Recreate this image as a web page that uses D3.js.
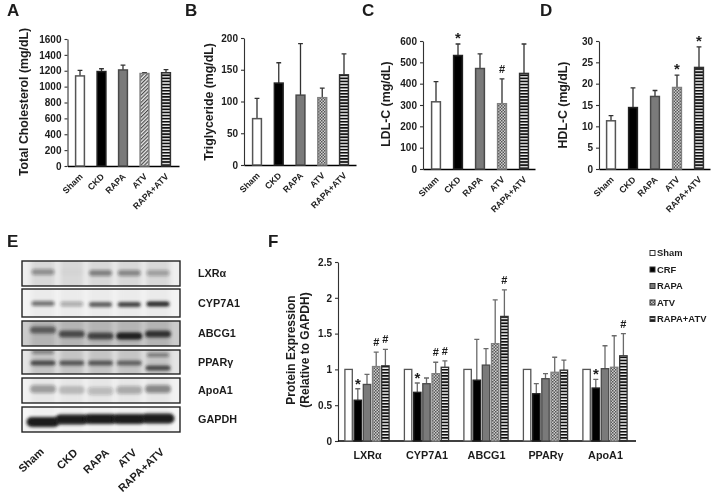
<!DOCTYPE html>
<html><head><meta charset="utf-8">
<script src="https://cdn.jsdelivr.net/npm/d3@7"></script>
<style>
html,body{margin:0;padding:0;background:#fff}
svg{display:block}
text{font-family:"Liberation Sans",Arial,sans-serif;font-weight:bold;fill:#1c1c1c}
</style></head><body><svg id="c" width="715" height="497"></svg>
<script>
const groups=["Sham","CKD","RAPA","ATV","RAPA+ATV"];
const totalChol=[1135,1190,1210,1165,1175], totalCholTop=[1205,1225,1270,1175,1215];
const trig=[73,129,110,106,142], trigTop=[105,161,191,121,175];
const ldl=[315,532,471,306,448], ldlTop=[410,586,540,422,586];
const hdl=[11.3,14.4,17,19.1,23.8], hdlTop=[12.5,19,18.4,22,28.6];
const ldlMarks=["","*","","#",""], hdlMarks=["","","","*","*"], noMarks=["","","","",""];

const proteins=["LXRα","CYP7A1","ABCG1","PPARγ","ApoA1"];
const legendNames=["Sham","CRF","RAPA","ATV","RAPA+ATV"];
const protSham=[1,1,1,1,1], protShamTop=[1,1,1,1,1];
const protCrf=[.57,.68,.85,.66,.74], protCrfTop=[.73,.81,1.42,.80,.86];
const protRapa=[.79,.80,1.06,.87,1.01], protRapaTop=[.93,.88,1.29,.94,1.33];
const protAtv=[1.04,.94,1.36,.96,1.03], protAtvTop=[1.24,1.10,1.97,1.17,1.47];
const protBoth=[1.05,1.03,1.74,.99,1.19], protBothTop=[1.28,1.12,2.11,1.13,1.50];
const protMarks=[["","*","","#","#"],["","*","","#","#"],["","","","","#"],["","","","",""],["","*","","","#"]];

const blotNames=["LXRα","CYP7A1","ABCG1","PPARγ","ApoA1","GAPDH"];
const blotLXR=[.38,.02,.45,.42,.3], blotCYP=[.55,.3,.68,.8,.95], blotABC=[.6,.7,.75,1,.85];
const blotPPAR=[.75,.68,.68,.62,.75], blotPPARUpper=[.5,0,0,0,.55], blotApo=[.36,.2,.22,.3,.45], blotGAPDH=[1,1,1,1,1];

const svg=d3.select("#c");
const defs=svg.append("defs");
function pat(id,w,h,draw,rot){
  const p=defs.append("pattern").attr("id",id).attr("patternUnits","userSpaceOnUse").attr("width",w).attr("height",h);
  if(rot)p.attr("patternTransform",`rotate(${rot})`);
  draw(p);
}
pat("stripes",3.1,3.1,p=>{p.append("rect").attr("width",3.1).attr("height",3.1).attr("fill","#f0f0f0");
  p.append("rect").attr("width",3.1).attr("height",1.7).attr("fill","#111");});
pat("hatch",2.6,2.6,p=>{p.append("rect").attr("width",2.6).attr("height",2.6).attr("fill","#e8e8e8");
  p.append("rect").attr("width",1.2).attr("height",2.6).attr("fill","#4c4c4c");},45);
pat("checker",3,3,p=>{p.append("rect").attr("width",3).attr("height",3).attr("fill","#cfcfcf");
  p.append("rect").attr("width",1.5).attr("height",1.5).attr("fill","#555");
  p.append("rect").attr("x",1.5).attr("y",1.5).attr("width",1.5).attr("height",1.5).attr("fill","#555");});
const soft=defs.append("filter").attr("id","soft").attr("x","-2%").attr("y","-2%").attr("width","104%").attr("height","104%");
soft.append("feGaussianBlur").attr("stdDeviation",.42);
const b2=defs.append("filter").attr("id","b2").attr("x","-30%").attr("y","-80%").attr("width","160%").attr("height","260%");
b2.append("feGaussianBlur").attr("stdDeviation",1.5);
const b3=defs.append("filter").attr("id","b3").attr("x","-30%").attr("y","-30%").attr("width","160%").attr("height","160%");
b3.append("feGaussianBlur").attr("stdDeviation",2.6);

const root=svg.append("g").attr("filter","url(#soft)");
const styleSet=(atv)=>[
 {fill:"#fff",stroke:"#555"},{fill:"#000",stroke:"#222"},{fill:"#7a7a7a",stroke:"#4a4a4a"},
 {fill:`url(#${atv})`,stroke:"#808080"},{fill:"url(#stripes)",stroke:"#333"}];

function yAxisG(g,y,x0,ticks,fmt){
  const ax=d3.axisLeft(y).tickValues(ticks).tickSize(3).tickSizeOuter(0).tickPadding(3).tickFormat(fmt||d3.format("d"));
  const a=g.append("g").attr("transform",`translate(${x0},0)`).call(ax);
  a.selectAll("path,line").attr("stroke","#333").attr("stroke-width",1.1);
  a.selectAll("text").attr("font-size",10).attr("fill","#1c1c1c");
}
function panel(o){
  const g=root.append("g");
  const x=d3.scalePoint().domain(groups).range(o.xr);
  const y=d3.scaleLinear().domain([0,o.max]).range([o.y0,o.y1]);
  yAxisG(g,y,o.x0,o.ticks);
  const ax=d3.axisBottom(d3.scaleLinear().domain([0,1]).range([o.x0,o.x1])).tickValues([]).tickSizeOuter(0);
  g.append("g").attr("transform",`translate(0,${o.y0})`).call(ax).select("path").attr("stroke","#000").attr("stroke-width",1.3);
  const st=styleSet(o.atv);
  groups.forEach((c,i)=>{
    const cx=x(c);
    g.append("path").attr("d",`M${cx},${y(o.v[i])}V${y(o.top[i])}M${cx-2.4},${y(o.top[i])}H${cx+2.4}`)
      .attr("stroke","#333").attr("stroke-width",1.3).attr("fill","none");
    g.append("rect").attr("x",cx-4.4).attr("width",8.8).attr("y",y(o.v[i])).attr("height",o.y0-y(o.v[i]))
      .attr("fill",st[i].fill).attr("stroke",st[i].stroke).attr("stroke-width",1.5);
    if(o.marks[i]){
      const star=o.marks[i]=="*";
      g.append("text").attr("x",cx).attr("y",y(o.top[i])-(star?1:6)).attr("text-anchor","middle")
       .attr("font-size",star?15:11).text(o.marks[i]);
    }
    g.append("text").attr("transform",`translate(${cx+1},${o.y0+9}) rotate(-45)`)
      .attr("text-anchor","end").attr("dy","0.35em").attr("font-size",8.8).text(c);
  });
  g.append("text").attr("transform",`translate(${o.tx},${o.ty}) rotate(-90)`).attr("text-anchor","middle")
    .attr("font-size",o.tfs).text(o.title);
  root.append("text").attr("x",o.lx).attr("y",15.5).attr("font-size",17).text(o.letter);
}
panel({letter:"A",lx:7,title:"Total Cholesterol (mg/dL)",tx:28,ty:102,tfs:12.3,x0:67.5,x1:179,y0:166,y1:39,xr:[80,166],max:1600,ticks:d3.range(0,1601,200),v:totalChol,top:totalCholTop,atv:"hatch",marks:noMarks});
panel({letter:"B",lx:185,title:"Triglyceride (mg/dL)",tx:213,ty:102,tfs:12.3,x0:244,x1:356,y0:165,y1:38,xr:[257,344],max:200,ticks:d3.range(0,201,50),v:trig,top:trigTop,atv:"checker",marks:noMarks});
panel({letter:"C",lx:362,title:"LDL-C (mg/dL)",tx:390,ty:104,tfs:12.3,x0:423,x1:535,y0:169,y1:41,xr:[436,524],max:600,ticks:d3.range(0,601,100),v:ldl,top:ldlTop,atv:"checker",marks:ldlMarks});
panel({letter:"D",lx:540,title:"HDL-C (mg/dL)",tx:567,ty:105,tfs:12.3,x0:599,x1:710,y0:169,y1:41,xr:[611,699],max:30,ticks:d3.range(0,31,5),v:hdl,top:hdlTop,atv:"checker",marks:hdlMarks});

// Panel E: blots
const E=root.append("g");
root.append("text").attr("x",7).attr("y",247).attr("font-size",17).text("E");
const lane=d3.scalePoint().domain(groups).range([43,158]);
const rows=[
 {n:0,y0:261,y1:286,bg:"#efefef",laneBg:"#d8d8d8",b:[{v:blotLXR,dy:[11,11,12,12,12],h:6,w:23}]},
 {n:1,y0:289,y1:317,bg:"#f4f4f4",laneBg:"#ebebeb",b:[{v:blotCYP,dy:[14.5,15,15.5,15.5,15],h:5,w:23}]},
 {n:2,y0:321,y1:346,bg:"#cbcbcb",laneBg:"#b4b4b4",b:[{v:blotABC,dy:[9,13,15,15,13],h:7,w:26}]},
 {n:3,y0:350,y1:374,bg:"#e4e4e4",laneBg:"#c4c4c4",b:[{v:blotPPAR,dy:[13,13,13,13,18],h:5,w:25},{v:blotPPARUpper,dy:[2,0,0,0,5],h:3,w:22}]},
 {n:4,y0:378,y1:403,bg:"#f2f2f2",laneBg:"#e6e6e6",b:[{v:blotApo,dy:[11,12,13,12,11],h:8,w:26}]},
 {n:5,y0:407,y1:432,bg:"#f6f6f6",laneBg:"#f0f0f0",b:[{v:blotGAPDH,dy:[15,12.5,12,12,11.5],h:10,w:33}]}
];
rows.forEach(r=>{
  const id="clip"+r.n;
  defs.append("clipPath").attr("id",id).append("rect").attr("x",22).attr("y",r.y0).attr("width",158).attr("height",r.y1-r.y0);
  const g=E.append("g").attr("clip-path",`url(#${id})`);
  g.append("rect").attr("x",22).attr("y",r.y0).attr("width",158).attr("height",r.y1-r.y0).attr("fill",r.bg);
  groups.forEach(c=>g.append("rect").attr("x",lane(c)-12).attr("width",24).attr("y",r.y0-6).attr("height",r.y1-r.y0+12)
     .attr("fill",r.laneBg).attr("filter","url(#b3)"));
  r.b.forEach(bd=>groups.forEach((c,i)=>{
    if(bd.v[i]<=0)return;
    g.append("rect").attr("x",lane(c)-bd.w/2).attr("width",bd.w).attr("y",r.y0+bd.dy[i]-bd.h/2).attr("height",bd.h)
     .attr("rx",bd.h/2).attr("fill","#1a1a1a").attr("fill-opacity",bd.v[i]).attr("filter","url(#b2)");
  }));
  E.append("rect").attr("x",22).attr("y",r.y0).attr("width",158).attr("height",r.y1-r.y0)
    .attr("fill","none").attr("stroke","#222").attr("stroke-width",1.4);
  E.append("text").attr("x",198).attr("y",(r.y0+r.y1)/2+3.8).attr("font-size",10.8).text(blotNames[r.n]);
});
const blotLabelX=[31,67,96,127,141], blotLabelY=[460,459,461,458,470];
groups.forEach((c,i)=>E.append("text").attr("transform",`translate(${blotLabelX[i]},${blotLabelY[i]}) rotate(-43)`)
   .attr("text-anchor","middle").attr("dy","0.35em").attr("font-size",11).text(c));

// Panel F
root.append("text").attr("x",268).attr("y",247).attr("font-size",17).text("F");
const F=root.append("g");
const fy=d3.scaleLinear().domain([0,2.5]).range([441,262]);
yAxisG(F,fy,338,[0,.5,1,1.5,2,2.5],d3.format(""));
const fx=d3.scalePoint().domain(proteins).range([367,605]);
const fb=d3.axisBottom(fx).tickSize(0).tickPadding(10);
const fa=F.append("g").attr("transform","translate(0,441)").call(fb);
fa.select("path").attr("d","M338,0H636").attr("stroke","#000").attr("stroke-width",1.3);
fa.selectAll("text").attr("font-size",10.8).attr("fill","#1c1c1c");
const series=[[protSham,protShamTop],[protCrf,protCrfTop],[protRapa,protRapaTop],[protAtv,protAtvTop],[protBoth,protBothTop]];
const sx=d3.scalePoint().domain(d3.range(5)).range([-18.4,18.4]);
const fst=styleSet("checker");
proteins.forEach((p,pi)=>series.forEach(([v,t],si)=>{
  const cx=fx(p)+sx(si);
  if(si>0)F.append("path").attr("d",`M${cx},${fy(v[pi])}V${fy(t[pi])}M${cx-2.5},${fy(t[pi])}H${cx+2.5}`)
    .attr("stroke","#6a6a6a").attr("stroke-width",1.3).attr("fill","none");
  F.append("rect").attr("x",cx-3.7).attr("width",7.4).attr("y",fy(v[pi])).attr("height",441-fy(v[pi]))
    .attr("fill",fst[si].fill).attr("stroke",fst[si].stroke).attr("stroke-width",1.3);
  const m=protMarks[pi][si];
  if(m){const star=m=="*";
    F.append("text").attr("x",cx).attr("y",fy(t[pi])-(star?0:6)).attr("text-anchor","middle")
     .attr("font-size",star?15:11).text(m);}
}));
F.append("text").attr("transform","translate(295,350) rotate(-90)").attr("text-anchor","middle").attr("font-size",12).text("Protein Expression");
F.append("text").attr("transform","translate(309,350) rotate(-90)").attr("text-anchor","middle").attr("font-size",12).text("(Relative to GAPDH)");
const ly=d3.scalePoint().domain(legendNames).range([253,319]);
legendNames.forEach((n,i)=>{
  F.append("rect").attr("x",650).attr("y",ly(n)-2.5).attr("width",5).attr("height",5).attr("fill",fst[i].fill).attr("stroke","#333").attr("stroke-width",1);
  F.append("text").attr("x",657).attr("y",ly(n)+3.3).attr("font-size",9.4).text(n);
});
</script></body></html>
